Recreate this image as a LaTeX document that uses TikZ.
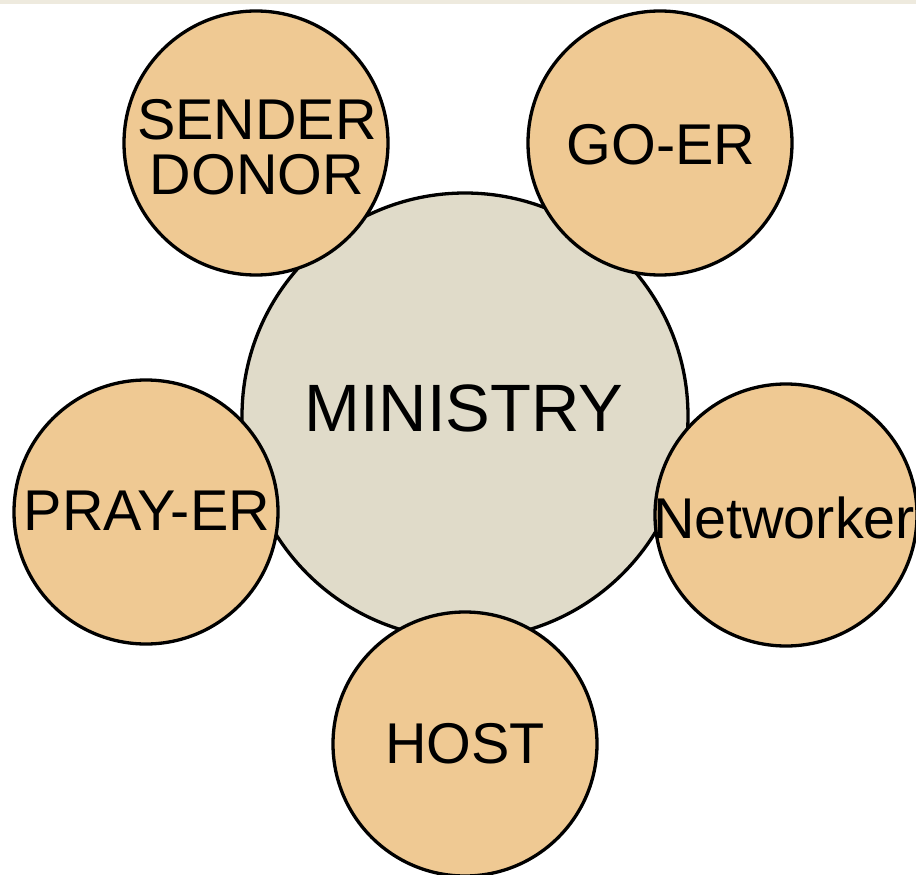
\documentclass[tikz,border=0pt]{standalone}
\usepackage{fontspec}
\setmainfont{Liberation Sans}
\definecolor{tan}{HTML}{EFC993}
\definecolor{core}{HTML}{E0DBC9}
\definecolor{strip}{HTML}{EEEADE}
\tikzset{
  role/.style={circle, draw=black, line width=3.3pt, fill=tan, minimum size=264pt, inner sep=0pt},
  hub/.style={circle, draw=black, line width=3.3pt, fill=core, minimum size=446pt, inner sep=0pt},
  roletext/.style={inner sep=0pt, align=center, font=\fontsize{57.5}{55}\selectfont},
  hubtext/.style={font=\fontsize{67}{67}\selectfont, inner sep=0pt}
}
\begin{document}
\begin{tikzpicture}[x=1pt,y=-1pt]
\useasboundingbox (0,0) rectangle (916,875);
\fill[white] (0,0) rectangle (916,875);
\fill[strip] (0,0) rectangle (916,4);
\node[hub] (ministry) at (465,416) {};
\node[hubtext] (mtext) at (464,408) {MINISTRY};
\node[role] (sender) at (256,143) {};
\node[roletext] (sendertext) at (257,147) {SENDER\\DONOR};
\node[role] (goer) at (660,143) {};
\node[roletext] (goertext) at (661,145) {GO-ER};
\node[role] (prayer) at (146,512) {};
\node[roletext] (prayertext) at (147,511) {PRAY-ER};
\node[role, minimum size=262pt] (networker) at (786,515) {};
\node[roletext] (networkertext) at (784,518) {Networker};
\node[role] (host) at (465,744) {};
\node[roletext] (hosttext) at (465,744) {HOST};
\end{tikzpicture}
\end{document}
